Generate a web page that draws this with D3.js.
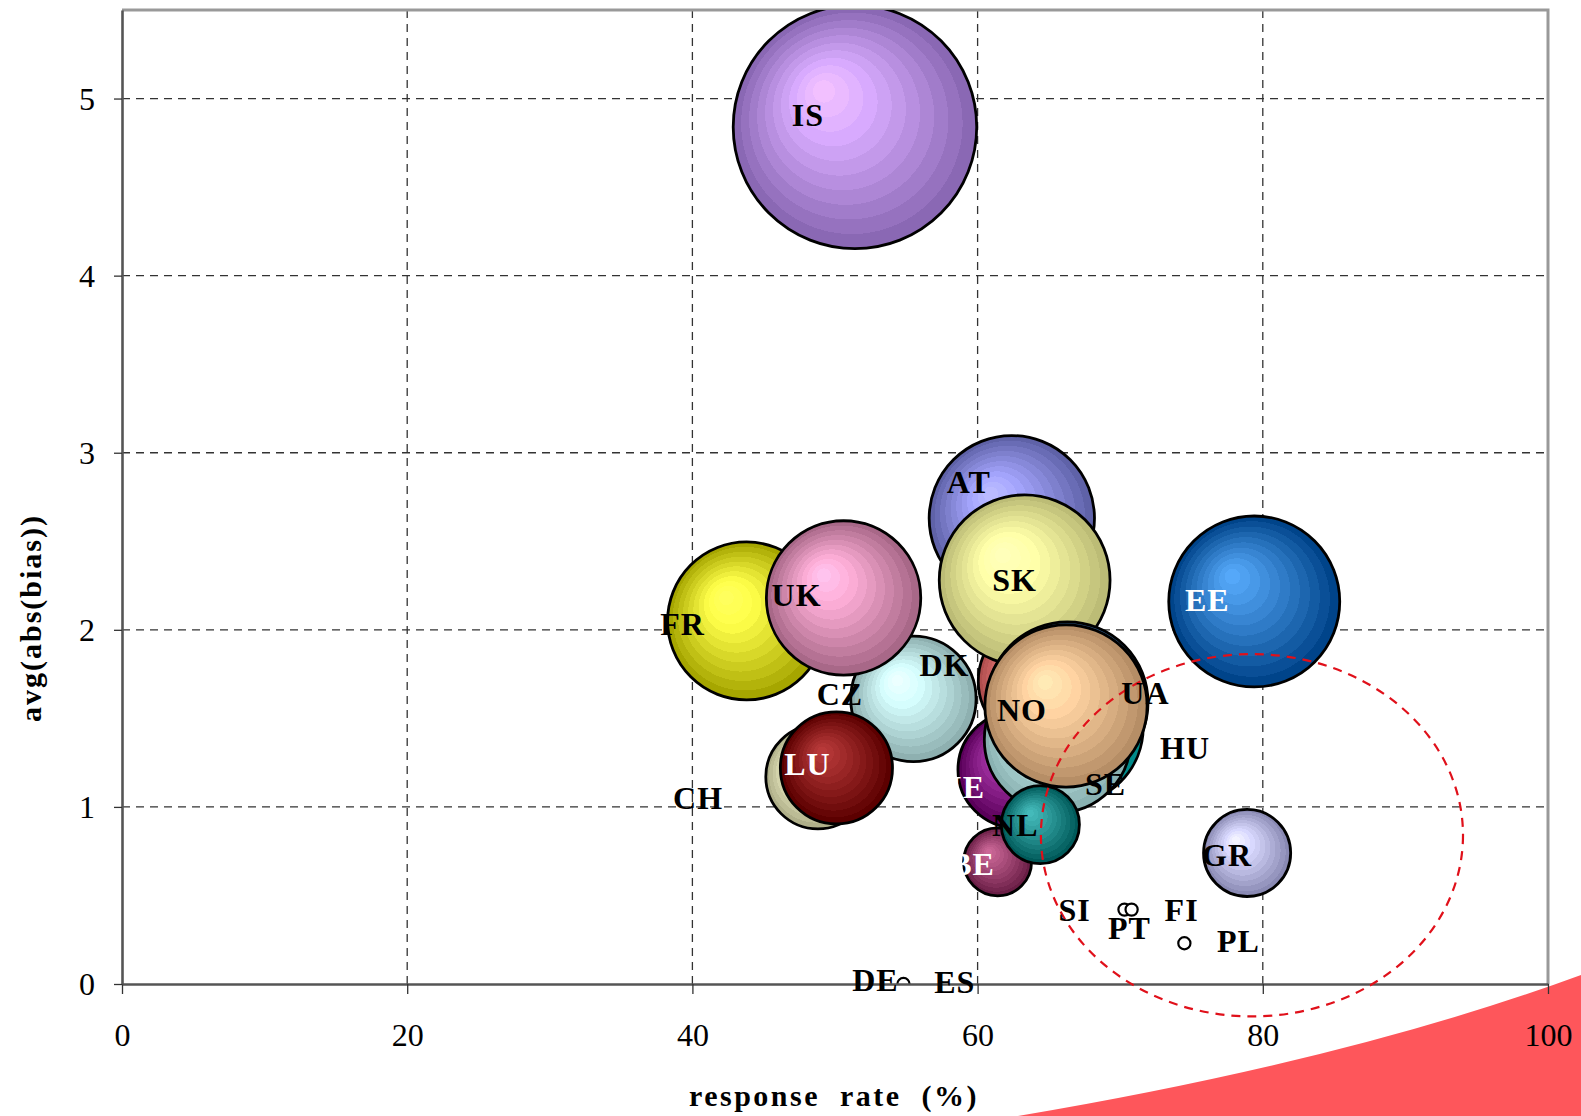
<!DOCTYPE html>
<html>
<head>
<meta charset="utf-8">
<script src="https://cdn.jsdelivr.net/npm/d3@7"></script>
<style>
  html, body { margin: 0; padding: 0; background: #fff; }
  svg { display: block; }
  text { font-family: "Liberation Serif", "Times New Roman", serif; }
</style>
</head>
<body>
<svg id="chart" width="1581" height="1116"></svg>
<script>
// ---- data -------------------------------------------------------------
const countries    = ["IS","FR","DK","UK","CZ","LU","AT","TR","SK","IE","HU","UA","SE","NO","BE","NL","GR","EE","PT","FI","PL","DE","SI","CH","ES"];
const responseRate = [51.4,43.8,55.5,50.6,48.8,50.1,62.4,64.4,63.3,62.7,66.2,66.3,65.6,66.2,61.4,64.4,78.9,79.4,70.3,70.8,74.5,54.8,66.8,40.4,58.4];
const avgAbsBias   = [4.84,2.05,1.61,2.18,1.17,1.22,2.63,1.71,2.28,1.21,1.45,1.59,1.38,1.57,0.69,0.90,0.74,2.16,0.42,0.42,0.23,0.00,0.42,1.05,0.01];
const bubbleSize   = [100,42.1,26.5,40.2,18.3,21.2,46.1,26.0,49.2,22.8,40.2,43.8,36.1,44.4,7.8,10.3,12.8,49.3,0.25,0.25,0.25,0.25,0,0,0];
const xTicks = [0, 20, 40, 60, 80, 100];
const yTicks = [0, 1, 2, 3, 4, 5];
// region of interest (ellipse in data units: centre x, centre y, half-width, half-height)
const focusRegion = [79.24, 0.84, 14.8, 1.023];

// ---- styling ----------------------------------------------------------
// bubble shading: [highlight, rim]
const shade = {
  IS:["#ddb0ff","#8a68b4"], FR:["#ffff55","#a6a600"], DK:["#d8ffff","#8eb0b0"],
  UK:["#ffb2da","#a86888"], CZ:["#ffffd8","#b0b08a"], LU:["#a83434","#5c0000"],
  AT:["#aaaaff","#5f62a8"], TR:["#f08484","#b04e4e"], SK:["#ffffaa","#bcbc76"],
  IE:["#a83aa8","#5a005a"], HU:["#44e4e4","#008a8a"], UA:["#6492c8","#2e5a8a"],
  SE:["#cceeee","#8ab2b2"], NO:["#ffd6a6","#b68e66"], BE:["#ba5e8a","#6a1e46"],
  NL:["#3eaaaa","#005a5a"], GR:["#dedeff","#8a8ab4"], EE:["#4e9ae4","#00448a"],
  PT:["#ffffff","#ffffff"], FI:["#ffffff","#ffffff"], PL:["#ffffff","#ffffff"],
  DE:["#ffffff","#ffffff"]
};
const whiteLabels = new Set(["LU","IE","BE","EE"]);
const hiddenLabels = new Set(["TR"]);
// label shift from the bubble centre, in pixels
const labelShift = {
  IS:[-47,-12], FR:[-64,3], DK:[31,-34], UK:[-47,-3], CZ:[22,-83], LU:[-29,-4],
  AT:[-43,-36], SK:[-10,0], IE:[-49,17], HU:[119,21], UA:[78,-9], SE:[48,45],
  NO:[-44,4], BE:[-25,2], NL:[-25,1], GR:[-20,2], EE:[-47,-1], PT:[5,18],
  FI:[50,0], PL:[54,-2], DE:[-28,-4], SI:[0,0], CH:[0,0], ES:[0,0]
};

// ---- layout -----------------------------------------------------------
const margin = {left: 122, top: 10, right: 33, bottom: 132};
const W = 1581, H = 1116;
const innerW = W - margin.left - margin.right;
const innerH = H - margin.top - margin.bottom;

const svg = d3.select("#chart");
const x = d3.scaleLinear().domain([0, 100]).range([margin.left, margin.left + innerW]);
const y = d3.scaleLinear().domain([0, 5.5]).range([margin.top + innerH, margin.top]);
const r = d3.scaleSqrt().domain([0, 100]).range([0, innerH * 0.125]);

const rows = countries.map((c, i) => ({c, x: responseRate[i], y: avgAbsBias[i], s: bubbleSize[i]}));

const defs = svg.append("defs");
defs.append("clipPath").attr("id", "plotClip")
  .append("rect").attr("x", x(0)).attr("y", y(5.5)).attr("width", x(100) - x(0)).attr("height", y(0) - y(5.5));

// banded radial gradients, lit from the upper left
const bands = 11;
Object.entries(shade).forEach(([c, [light, dark]]) => {
  const g = defs.append("radialGradient").attr("id", "g-" + c)
    .attr("cx", "50%").attr("cy", "50%").attr("r", "50%").attr("fx", "36%").attr("fy", "34%");
  const mix = d3.interpolateRgb(d3.rgb(light).brighter(0.25), dark);
  for (let i = 0; i < bands; i++) {
    const col = mix(Math.pow(i / (bands - 1), 1.15));
    g.append("stop").attr("offset", (i / bands)).attr("stop-color", col);
    g.append("stop").attr("offset", ((i + 1) / bands)).attr("stop-color", col);
  }
});

// ---- page corner decoration ------------------------------------------
svg.append("path")
  .attr("d", `M1018,${H} Q1350,1060 ${W},975 L${W},${H} Z`)
  .attr("fill", "#fe565b");

// ---- grid -------------------------------------------------------------
const grid = svg.append("g");
grid.selectAll("line.v").data(xTicks.filter(t => t > 0 && t < 100)).join("line")
  .attr("x1", d => x(d)).attr("x2", d => x(d)).attr("y1", y(5.5)).attr("y2", y(0))
  .attr("stroke", "#333").attr("stroke-width", 1.3).attr("stroke-dasharray", "8,6");
grid.selectAll("line.h").data(yTicks.filter(t => t > 0)).join("line")
  .attr("x1", x(0)).attr("x2", x(100)).attr("y1", d => y(d)).attr("y2", d => y(d))
  .attr("stroke", "#333").attr("stroke-width", 1.3).attr("stroke-dasharray", "8,6");

// frame (top and right)
svg.append("path")
  .attr("d", `M${x(0)},${y(5.5)}H${x(100)}V${y(0)}`)
  .attr("fill", "none").attr("stroke", "#999").attr("stroke-width", 3);

// ---- bubbles ----------------------------------------------------------
const bubbles = svg.append("g").attr("clip-path", "url(#plotClip)");
bubbles.selectAll("circle").data(rows.filter(d => d.s > 0)).join("circle")
  .attr("cx", d => x(d.x)).attr("cy", d => y(d.y)).attr("r", d => r(d.s))
  .attr("fill", d => `url(#g-${d.c})`)
  .attr("stroke", "#000").attr("stroke-width", d => r(d.s) < 10 ? 2.2 : 2.8);

// ---- axes -------------------------------------------------------------
const xAxis = svg.append("g").attr("transform", `translate(0,${y(0)})`)
  .call(d3.axisBottom(x).tickValues(xTicks).tickFormat(d3.format("d"))
    .tickSize(10).tickSizeOuter(0).tickPadding(29));
const yAxis = svg.append("g").attr("transform", `translate(${x(0)},0)`)
  .call(d3.axisLeft(y).tickValues(yTicks).tickFormat(d3.format("d"))
    .tickSize(8).tickSizeOuter(0).tickPadding(19));
[xAxis, yAxis].forEach(a => {
  a.select(".domain").attr("stroke", "#555").attr("stroke-width", 2.6);
  a.selectAll(".tick line").attr("stroke", "#333").attr("stroke-width", 1.3);
  a.selectAll(".tick text").attr("font-size", 32).attr("fill", "#000")
    .style("font-family", "'Liberation Serif', serif");
});
yAxis.selectAll(".tick text").attr("dy", "0.34em");

// ---- highlighted region ----------------------------------------------
const [ecx, ecy, erx, ery] = focusRegion;
svg.append("ellipse")
  .attr("cx", x(ecx)).attr("cy", y(ecy))
  .attr("rx", x(ecx + erx) - x(ecx)).attr("ry", y(ecy) - y(ecy + ery))
  .attr("fill", "none").attr("stroke", "#e0101a").attr("stroke-width", 2.2)
  .attr("stroke-dasharray", "9,7");

// ---- country labels ---------------------------------------------------
svg.append("g").selectAll("text").data(rows.filter(d => !hiddenLabels.has(d.c))).join("text")
  .attr("x", d => x(d.x) + labelShift[d.c][0])
  .attr("y", d => y(d.y) + labelShift[d.c][1])
  .attr("dy", "0.34em")
  .attr("text-anchor", "middle")
  .attr("font-size", 32).attr("font-weight", "bold").attr("letter-spacing", 1)
  .attr("fill", d => whiteLabels.has(d.c) ? "#fff" : "#000")
  .text(d => d.c);

// ---- axis titles ------------------------------------------------------
svg.append("text")
  .attr("x", (x(0) + x(100)) / 2 - 1).attr("y", 1106)
  .attr("text-anchor", "middle").attr("font-size", 30).attr("font-weight", "bold")
  .attr("letter-spacing", 2.5).style("white-space", "pre")
  .text("response  rate  (%)");
svg.append("text")
  .attr("transform", `translate(41,${(y(0) + y(5.5)) / 2 + 121}) rotate(-90)`)
  .attr("text-anchor", "middle").attr("font-size", 30).attr("font-weight", "bold")
  .attr("letter-spacing", 2)
  .text("avg(abs(bias))");
</script>
</body>
</html>
